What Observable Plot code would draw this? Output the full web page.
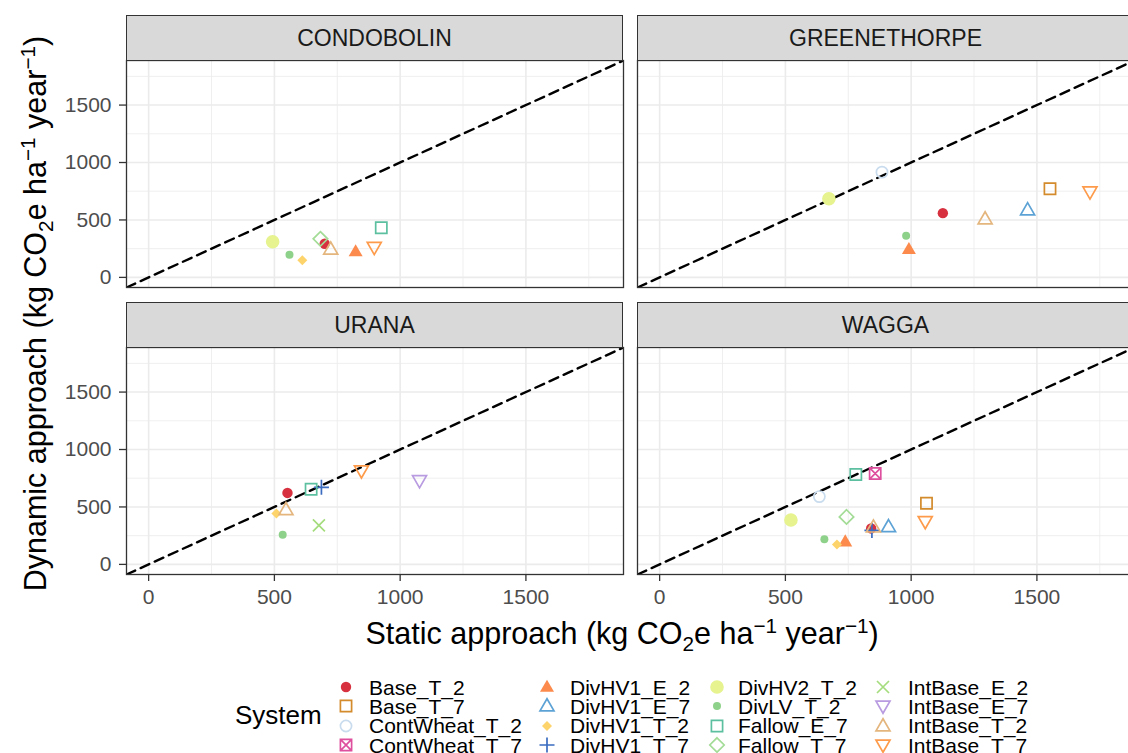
<!DOCTYPE html>
<html>
<head>
<meta charset="utf-8">
<script src="https://cdn.jsdelivr.net/npm/d3@7"></script>
<script src="https://cdn.jsdelivr.net/npm/@observablehq/plot@0.6"></script>
<style>
  html, body { margin: 0; padding: 0; background: #fff; }
  #chart { position: relative; width: 1128px; height: 753px; overflow: hidden; background: #fff;
           font-family: "Liberation Sans", Arial, Helvetica, sans-serif; color: #000; }
  .strip { position: absolute; box-sizing: border-box; background: #d9d9d9; border: 1.3px solid #333;
           display: flex; align-items: center; justify-content: center; font-size: 23px; color: #1a1a1a; }
  .panel { position: absolute; }
  .title { position: absolute; white-space: nowrap; font-size: 30.5px; color: #000; }
  .title sub, .title sup { font-size: 0.68em; line-height: 0; }
  .legtitle { position: absolute; font-size: 26px; }
  .legitem { position: absolute; font-size: 21px; white-space: nowrap; line-height: 1; }
  .legsym { position: absolute; }
</style>
</head>
<body>
<div id="chart"></div>
<script>
// ---------------- data ----------------
const sites = ["CONDOBOLIN", "GREENETHORPE", "URANA", "WAGGA"];
const systems = ["Base_T_2", "Base_T_7", "ContWheat_T_2", "ContWheat_T_7",
                 "DivHV1_E_2", "DivHV1_E_7", "DivHV1_T_2", "DivHV1_T_7",
                 "DivHV2_T_2", "DivLV_T_2", "Fallow_E_7", "Fallow_T_7",
                 "IntBase_E_2", "IntBase_E_7", "IntBase_T_2", "IntBase_T_7"];
// static (x) and dynamic (y) values, in the order of `systems`; null = absent
const condobolinStatic  = [700, null, null, null, 823, null, 611, null, 493, 560, 925, 683, null, null, 724, 897];
const condobolinDynamic = [293, null, null, null, 226, null, 150, null, 310, 197, 432, 336, null, null, 245, 262];
const greenethorpeStatic  = [1126, 1552, 884, null, 991, 1463, null, null, 673, 980, null, null, null, null, 1294, 1711];
const greenethorpeDynamic = [559, 771, 916, null, 245, 587, null, null, 684, 362, null, null, null, null, 508, 745];
const uranaStatic  = [552, null, null, null, null, null, 508, 687, null, 533, 646, null, 677, 1077, 546, 846];
const uranaDynamic = [622, null, null, null, null, null, 442, 671, null, 259, 654, null, 340, 730, 475, 815];
const waggaStatic  = [841, 1061, 635, 857, 738, 910, 705, 844, 522, 655, 780, 743, null, null, 850, 1056];
const waggaDynamic = [313, 532, 590, 791, 198, 327, 174, 296, 386, 218, 782, 413, null, null, 324, 374];

const majorTicks = [0, 500, 1000, 1500];
const minorTicks = [250, 750, 1250, 1750];
const axisDomain = [-88, 1888];

const systemColors = ["#d7303f", "#d38b2c", "#c9dcee", "#de4f9e",
                      "#fc8a4c", "#5da2d5", "#fdd46c", "#3b6cc0",
                      "#e6f38e", "#8ed18a", "#5cc0a0", "#a3dc96",
                      "#a5dc7e", "#b89be0", "#e4b67e", "#fd9b4b"];

// ---------------- symbols ----------------
function circleSym(r) { return { draw(c) { c.moveTo(r, 0); c.arc(0, 0, r, 0, 2 * Math.PI); c.closePath(); } }; }
function squareSym(h) { return { draw(c) { c.rect(-h, -h, 2 * h, 2 * h); } }; }
function squareXSym(h) { return { draw(c) { c.rect(-h, -h, 2 * h, 2 * h); c.moveTo(-h, -h); c.lineTo(h, h); c.moveTo(h, -h); c.lineTo(-h, h); } }; }
function triUpSym(s) { const h = s * Math.sqrt(3); return { draw(c) { c.moveTo(0, -h * 0.6); c.lineTo(s, h * 0.4); c.lineTo(-s, h * 0.4); c.closePath(); } }; }
function triDownSym(s) { const h = s * Math.sqrt(3); return { draw(c) { c.moveTo(0, h * 0.6); c.lineTo(s, -h * 0.4); c.lineTo(-s, -h * 0.4); c.closePath(); } }; }
function diamondSym(h) { return { draw(c) { c.moveTo(0, -h); c.lineTo(h, 0); c.lineTo(0, h); c.lineTo(-h, 0); c.closePath(); } }; }
function plusSym(h) { return { draw(c) { c.moveTo(-h, 0); c.lineTo(h, 0); c.moveTo(0, -h); c.lineTo(0, h); } }; }
function timesSym(h) { return { draw(c) { c.moveTo(-h, -h); c.lineTo(h, h); c.moveTo(h, -h); c.lineTo(-h, h); } }; }

const systemShapes = [
  { sym: circleSym(5.2), filled: true },   // Base_T_2
  { sym: squareSym(5.6), filled: false },  // Base_T_7
  { sym: circleSym(5.6), filled: false },  // ContWheat_T_2
  { sym: squareXSym(5.6), filled: false }, // ContWheat_T_7
  { sym: triUpSym(7), filled: true },      // DivHV1_E_2
  { sym: triUpSym(7), filled: false },     // DivHV1_E_7
  { sym: diamondSym(5), filled: true },    // DivHV1_T_2
  { sym: plusSym(7.5), filled: false },    // DivHV1_T_7
  { sym: circleSym(6.8), filled: true },   // DivHV2_T_2
  { sym: circleSym(4), filled: true },     // DivLV_T_2
  { sym: squareSym(5.6), filled: false },  // Fallow_E_7
  { sym: diamondSym(7.2), filled: false }, // Fallow_T_7
  { sym: timesSym(6), filled: false },     // IntBase_E_2
  { sym: triDownSym(7), filled: false },   // IntBase_E_7
  { sym: triUpSym(7), filled: false },     // IntBase_T_2
  { sym: triDownSym(7), filled: false }    // IntBase_T_7
];

// ---------------- layout ----------------
const PW = 497, PH = 227, mL = 80, mR = 12, mT = 4, mB = 40, stripH = 45;
const panels = [
  { site: "CONDOBOLIN",   xs: condobolinStatic,   ys: condobolinDynamic,   left: 126, top: 60,  yAxis: true,  xAxis: false },
  { site: "GREENETHORPE", xs: greenethorpeStatic, ys: greenethorpeDynamic, left: 637, top: 60,  yAxis: false, xAxis: false },
  { site: "URANA",        xs: uranaStatic,        ys: uranaDynamic,        left: 126, top: 347, yAxis: true,  xAxis: true },
  { site: "WAGGA",        xs: waggaStatic,        ys: waggaDynamic,        left: 637, top: 347, yAxis: false, xAxis: true }
];

const chart = document.getElementById("chart");

for (const p of panels) {
  const rows = systems.map((s, i) => ({ system: s, i, x: p.xs[i], y: p.ys[i] })).filter(d => d.x != null && d.y != null);
  const marks = [
    Plot.gridX(minorTicks, { stroke: "#ebebeb", strokeOpacity: 1, strokeWidth: 0.8 }),
    Plot.gridY(minorTicks, { stroke: "#ebebeb", strokeOpacity: 1, strokeWidth: 0.8 }),
    Plot.gridX(majorTicks, { stroke: "#ebebeb", strokeOpacity: 1, strokeWidth: 1.6 }),
    Plot.gridY(majorTicks, { stroke: "#ebebeb", strokeOpacity: 1, strokeWidth: 1.6 }),
    Plot.line(axisDomain, { x: d => d, y: d => d, stroke: "#000", strokeWidth: 2.4, strokeDasharray: "9.5,6", clip: true })
  ];
  systems.forEach((s, i) => {
    const sub = rows.filter(d => d.i === i);
    if (!sub.length) return;
    const sh = systemShapes[i];
    marks.push(Plot.dot(sub, {
      x: "x", y: "y", symbol: sh.sym,
      fill: sh.filled ? systemColors[i] : "none",
      stroke: sh.filled ? "none" : systemColors[i],
      strokeWidth: 1.7
    }));
  });
  marks.push(Plot.frame({ stroke: "#333", strokeWidth: 1.3 }));
  if (p.yAxis) marks.push(Plot.axisY(majorTicks, { tickSize: 7, tickPadding: 8, fontSize: 21, fill: "#4d4d4d", stroke: "#333", strokeWidth: 1.3, label: null, tickFormat: d => String(d) }));
  if (p.xAxis) marks.push(Plot.axisX(majorTicks, { tickSize: 7, tickPadding: 8, fontSize: 21, fill: "#4d4d4d", stroke: "#333", strokeWidth: 1.3, label: null, tickFormat: d => String(d) }));

  const svg = Plot.plot({
    width: mL + PW + mR, height: mT + PH + mB,
    marginLeft: mL, marginRight: mR, marginTop: mT, marginBottom: mB,
    style: { fontFamily: "'Liberation Sans', Arial, sans-serif", background: "transparent", overflow: "visible" },
    x: { domain: axisDomain, axis: null },
    y: { domain: axisDomain, axis: null },
    marks
  });
  svg.classList.add("panel");
  svg.style.left = (p.left - mL) + "px";
  svg.style.top = (p.top - mT) + "px";
  chart.appendChild(svg);

  const strip = document.createElement("div");
  strip.className = "strip";
  strip.style.left = p.left + "px";
  strip.style.top = (p.top - stripH) + "px";
  strip.style.width = PW + "px";
  strip.style.height = (stripH + 1) + "px";
  strip.textContent = p.site;
  chart.appendChild(strip);
}

// ---------------- axis titles ----------------
const xt = document.createElement("div");
xt.className = "title";
xt.innerHTML = "Static approach (kg CO<sub>2</sub>e ha<sup>\u22121</sup> year<sup>\u22121</sup>)";
chart.appendChild(xt);
xt.style.left = (622 - xt.offsetWidth / 2) + "px";
xt.style.top = (633 - xt.offsetHeight / 2) + "px";

const yt = document.createElement("div");
yt.className = "title";
yt.innerHTML = "Dynamic approach (kg CO<sub>2</sub>e ha<sup>\u22121</sup> year<sup>\u22121</sup>)";
chart.appendChild(yt);
const yw = yt.offsetWidth, yh = yt.offsetHeight;
yt.style.left = (36 - yw / 2) + "px";
yt.style.top = (313 - yh / 2) + "px";
yt.style.transform = "rotate(-90deg)";

// ---------------- legend ----------------
const lt = document.createElement("div");
lt.className = "legtitle";
lt.textContent = "System";
chart.appendChild(lt);
lt.style.left = "235px";
lt.style.top = (715 - lt.offsetHeight / 2) + "px";

const colSym = [346, 547, 717, 883], colText = [369, 570, 738, 908], rowY = [687, 706.3, 725.6, 745];
systems.forEach((s, i) => {
  const col = Math.floor(i / 4), row = i % 4;
  const sh = systemShapes[i];
  const p = d3.path();
  sh.sym.draw(p);
  const ns = "http://www.w3.org/2000/svg";
  const sv = document.createElementNS(ns, "svg");
  sv.setAttribute("width", 20); sv.setAttribute("height", 20);
  sv.setAttribute("class", "legsym");
  sv.style.left = (colSym[col] - 10) + "px";
  sv.style.top = (rowY[row] - 10) + "px";
  const path = document.createElementNS(ns, "path");
  path.setAttribute("transform", "translate(10,10)");
  path.setAttribute("d", p.toString());
  path.setAttribute("fill", sh.filled ? systemColors[i] : "none");
  path.setAttribute("stroke", sh.filled ? "none" : systemColors[i]);
  path.setAttribute("stroke-width", 1.7);
  sv.appendChild(path);
  chart.appendChild(sv);
  const t = document.createElement("div");
  t.className = "legitem";
  t.textContent = s;
  chart.appendChild(t);
  t.style.left = colText[col] + "px";
  t.style.top = (rowY[row] - t.offsetHeight / 2) + "px";
});
</script>
</body>
</html>
